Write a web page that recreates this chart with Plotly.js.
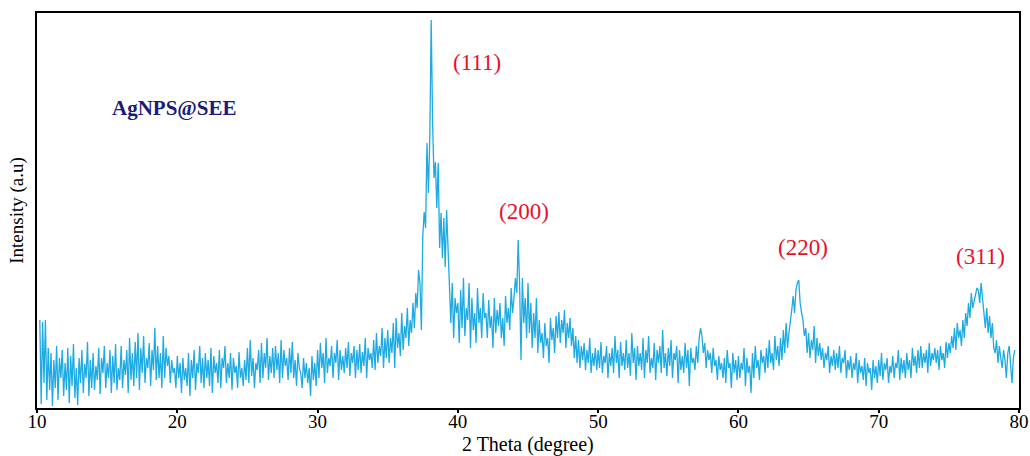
<!DOCTYPE html>
<html>
<head>
<meta charset="utf-8">
<script src="https://cdn.plot.ly/plotly-3.0.1.min.js"></script>
<style>html,body{margin:0;padding:0;background:#fff;}#chart{width:1030px;height:456px;}</style>
</head>
<body>
<div id="chart"></div>
<script>
// 2-theta sampling of the scan (degrees)
const thetaStart = 10.2;
const thetaStep = 0.1;
// Intensity (a.u.), one row per degree
const intensity = [
  88, 4, 86, 25, 88, 8, 60, 18,
  55, 2, 48, 20, 62, 8, 50, 30, 58, 12,
  45, 18, 60, 5, 52, 22, 64, 10, 40, 3,
  50, 25, 58, 15, 44, 30, 66, 12, 48, 20,
  55, 18, 42, 28, 60, 14, 50, 35, 62, 20,
  45, 30, 58, 15, 52, 25, 64, 18, 40, 28,
  62, 20, 48, 33, 58, 15, 70, 28, 55, 22,
  66, 30, 75, 18, 60, 35, 72, 25, 50, 40,
  65, 22, 58, 38, 80, 28, 62, 30, 55, 20,
  72, 30, 60, 42, 52, 25, 48, 35, 40, 20,
  52, 30, 45, 15, 50, 28, 40, 22, 55, 12,
  48, 30, 58, 18, 45, 35, 62, 25, 50, 20,
  55, 30, 48, 22, 60, 15, 52, 35, 45, 25,
  58, 20, 50, 40, 62, 25, 45, 30, 55, 18,
  50, 35, 42, 20, 56, 30, 40, 22, 48, 28,
  60, 25, 68, 32, 50, 20, 45, 38, 58, 25,
  65, 30, 55, 40, 70, 28, 52, 35, 60, 30,
  62, 38, 55, 25, 68, 30, 58, 42, 50, 28,
  60, 35, 66, 30, 48, 22, 55, 40, 35, 20,
  50, 30, 45, 25, 40, 12, 52, 28, 45, 22,
  58, 30, 65, 40, 55, 25, 70, 35, 50, 42,
  62, 30, 55, 45, 68, 28, 58, 38, 52, 35,
  60, 40, 66, 32, 55, 45, 62, 30, 58, 38,
  64, 35, 56, 42, 70, 30, 60, 48, 55, 40,
  68, 38, 75, 45, 62, 52, 80, 40, 70, 50,
  78, 45, 70, 55, 85, 40, 90, 60, 75, 52,
  95, 58, 82, 70, 100, 62, 88, 75, 105, 80,
  115, 100, 138, 125, 78, 172, 196, 180, 265, 215,
  270, 388, 285, 230, 246, 200, 245, 160, 195, 150,
  190, 141, 198, 165, 120, 85, 125, 70, 110, 95,
  105, 65, 118, 80, 130, 72, 100, 88, 125, 60,
  110, 78, 95, 65, 120, 85, 100, 70, 115, 90,
  95, 70, 108, 80, 92, 60, 110, 75, 98, 82,
  105, 70, 90, 62, 112, 85, 100, 78, 120, 95,
  110, 130, 115, 168, 125, 48, 130, 85, 110, 70,
  125, 75, 105, 60, 95, 70, 110, 55, 88, 65,
  75, 50, 85, 62, 70, 45, 90, 68, 80, 55,
  92, 70, 96, 65, 88, 75, 98, 60, 85, 70,
  90, 62, 80, 50, 72, 45, 68, 40, 62, 48,
  65, 38, 58, 45, 70, 35, 55, 42, 60, 38,
  58, 40, 66, 35, 52, 45, 62, 30, 55, 42,
  60, 35, 72, 45, 58, 30, 66, 42, 55, 38,
  68, 40, 55, 32, 75, 45, 60, 28, 62, 42,
  55, 38, 70, 30, 58, 45, 72, 35, 50, 40,
  65, 28, 58, 45, 62, 35, 78, 40, 55, 32,
  60, 42, 68, 30, 55, 48, 62, 25, 58, 38,
  52, 35, 65, 40, 58, 22, 60, 45, 50, 38,
  62, 45, 70, 80, 72, 55, 65, 40, 58, 48,
  55, 35, 60, 42, 48, 28, 52, 38, 45, 30,
  50, 25, 58, 40, 45, 20, 55, 35, 48, 28,
  52, 30, 45, 38, 60, 22, 50, 35, 42, 15,
  55, 30, 62, 40, 48, 28, 58, 45, 52, 35,
  60, 40, 68, 45, 55, 38, 72, 48, 62, 42,
  70, 48, 78, 55, 85, 60, 75, 90, 98, 112,
  95, 118, 125, 128, 105, 95, 88, 72, 80, 55,
  75, 50, 68, 58, 82, 45, 70, 52, 65, 48,
  60, 40, 55, 48, 62, 35, 52, 42, 58, 38,
  55, 40, 62, 35, 50, 45, 58, 30, 48, 38,
  52, 30, 45, 38, 55, 25, 48, 35, 42, 28,
  50, 22, 45, 35, 40, 18, 48, 30, 42, 25,
  48, 32, 55, 28, 45, 38, 50, 25, 42, 35,
  52, 30, 45, 40, 58, 28, 50, 35, 48, 30,
  55, 38, 48, 30, 60, 42, 52, 35, 58, 40,
  62, 40, 55, 45, 58, 35, 65, 42, 55, 48,
  60, 45, 58, 38, 62, 48, 55, 40, 66, 50,
  65, 55, 72, 60, 80, 58, 85, 70, 78, 62,
  88, 70, 95, 82, 105, 90, 115, 100, 108, 112,
  120, 118, 105, 125, 110, 95, 80, 100, 75, 92,
  70, 85, 60, 55, 68, 45, 62, 50, 40, 58,
  48, 30, 55, 62, 45, 25, 50, 58
];
const peakLabels = ["(111)", "(200)", "(220)", "(311)"];
const peakLabelX = [41.36, 44.71, 64.6, 77.29];
const peakLabelY = [346, 197, 161, 152];
const sampleName = "AgNPS@SEE";
const xTicks = [10, 20, 30, 40, 50, 60, 70, 80];
const xTitle = "2 Theta (degree)";
const yTitle = "Intensity (a.u)";

const theta = intensity.map((_, i) => +(thetaStart + i * thetaStep).toFixed(2));

const serif = "Liberation Serif, Times New Roman, serif";
const annotations = peakLabels.map((t, i) => ({
  x: peakLabelX[i], y: peakLabelY[i], text: t, showarrow: false,
  font: {family: serif, size: 23, color: "#e8112d"}, xanchor: "center", yanchor: "middle"
}));
annotations.push({
  x: 19.8, y: 300, text: "<b>" + sampleName + "</b>", showarrow: false,
  font: {family: serif, size: 21, color: "#1b1b7a"}, xanchor: "center", yanchor: "middle"
});
annotations.push({
  xref: "paper", yref: "paper", x: 0.5, y: -0.092, text: xTitle, showarrow: false,
  font: {family: serif, size: 20, color: "#000"}, xanchor: "center", yanchor: "middle"
});

Plotly.newPlot("chart", [{
  x: theta, y: intensity, type: "scatter", mode: "lines",
  line: {color: "#1eaae2", width: 1.3}, hoverinfo: "skip"
}], {
  width: 1030, height: 456,
  margin: {l: 37, r: 11, t: 13, b: 48},
  paper_bgcolor: "#fff", plot_bgcolor: "#fff",
  showlegend: false,
  font: {family: serif, color: "#000"},
  xaxis: {
    range: [10, 80], tickvals: xTicks, ticktext: xTicks.map(String),
    showgrid: false, zeroline: false,
    showline: true, mirror: true, linecolor: "#000", linewidth: 2,
    ticks: "outside", ticklen: 3, tickwidth: 2, tickcolor: "#000",
    ticklabelstandoff: -8,
    tickfont: {family: serif, size: 19, color: "#000"},
    automargin: false
  },
  yaxis: {
    range: [0, 395], showticklabels: false, ticks: "",
    showgrid: false, zeroline: false,
    showline: true, mirror: true, linecolor: "#000", linewidth: 2,
    title: {text: yTitle, font: {family: serif, size: 19, color: "#000"}, standoff: 6},
    automargin: false
  },
  annotations: annotations
}, {displayModeBar: false, staticPlot: true});
</script>
</body>
</html>
